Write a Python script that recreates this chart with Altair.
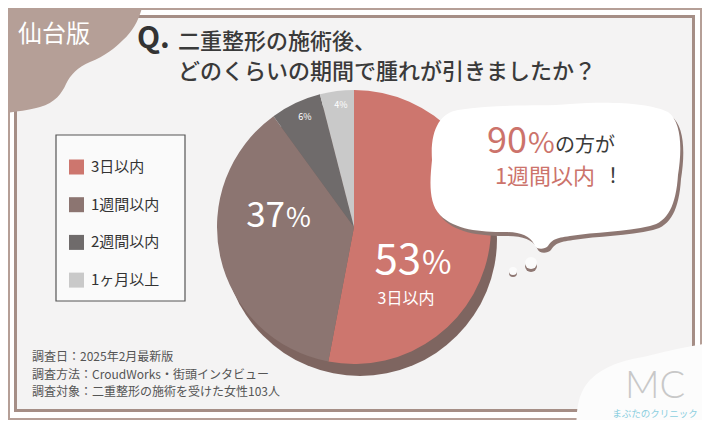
import math
import altair as alt
import pandas as pd

# ---------------- data ----------------
categories = ["3日以内", "1週間以内", "2週間以内", "1ヶ月以上"]
values = [53, 37, 6, 4]
colors = ["#cd766e", "#8c7571", "#6f6b6b", "#c9c9c9"]

badge = "仙台版"
title_q = "Q."
title_lines = ["二重整形の施術後、", "どのくらいの期間で腫れが引きましたか？"]
callout_pct = "90"
callout_rest = "の方が"
callout_line2 = "1週間以内"
callout_bang = "！"
footer_lines = [
    "調査日：2025年2月最新版",
    "調査方法：CroudWorks・街頭インタビュー",
    "調査対象：二重整形の施術を受けた女性103人",
]
logo_main = "MC"
logo_sub = "まぶたのクリニック"

# ---------------- styling ----------------
JP = "Noto Sans CJK JP"
BROWN = "#b59f97"
LINE = "#a58e86"
PANEL = "#f4f3f3"
RED = "#cc736b"
DARK = "#3a3a3a"
OFF = 8  # page margin

one = pd.DataFrame({"k": [0]})
pie_df = pd.DataFrame({"cat": categories, "val": values, "ord": list(range(len(values)))})


def P(v):
    return v - OFF


def text(s, x, y, size, color, align="left", weight=400, baseline="middle", font=JP):
    return alt.Chart(one).mark_text(
        text=s, align=align, baseline=baseline, fontSize=size, font=font,
        fontWeight=weight, color=color,
    ).encode(x=alt.value(P(x)), y=alt.value(P(y)))


def rect(x1, y1, x2, y2, **kw):
    return alt.Chart(one).mark_rect(**kw).encode(
        x=alt.value(P(x1)), x2=alt.value(P(x2)), y=alt.value(P(y1)), y2=alt.value(P(y2))
    )


def shape(path, x, y, color):
    return alt.Chart(one).mark_point(
        shape=path, size=4, filled=True, color=color, opacity=1, strokeWidth=0
    ).encode(x=alt.value(P(x)), y=alt.value(P(y)))


def dot(x, y, d, color):
    return alt.Chart(one).mark_point(
        shape="circle", size=d * d, filled=True, color=color, opacity=1, strokeWidth=0
    ).encode(x=alt.value(P(x)), y=alt.value(P(y)))


# decorative outlines (pixel units relative to anchor)
BLOB_TL = ("M -10 -10 L 146 -10 L 142 8 C 138 22 132 32 123 40 C 115 48 105 56 90 62 "
           "C 78 67 70 75 66 84 C 62 93 55 103 40 107 C 30 110 15 112 -10 115 Z")
BLOB_LOGO = ("M -133 12 C -135 -18 -132 -35 -120 -48 C -105 -63 -85 -68 -67 -71 "
             "C -45 -76 -20 -83 10 -86 L 10 12 Z")
CLOUD = ("M -123 -15 C -125 -45 -115 -62 -97 -65 C -55 -72 -15 -68 15 -71 "
         "C 55 -74 95 -72 113 -63 C 127 -53 127 -25 123 0 C 121 30 113 47 95 51 "
         "C 70 57 40 57 15 61 C 0 63 -3 65 -7 71 C -11 75 -19 75 -21 69 "
         "C -25 61 -35 57 -50 57 C -75 57 -100 55 -115 40 C -127 27 -125 5 -123 -15 Z")

CX, CY, R = 354, 227, 137

layers = []
# panel and frame
layers.append(rect(10, 10, 700, 418, color="white"))
layers.append(rect(15.5, 16.5, 693.5, 410.5, fill=PANEL, stroke=LINE, strokeWidth=3))
layers.append(shape(BLOB_TL, 0, 0, BROWN))
layers.append(shape(BLOB_LOGO, 710, 428, "#fcfcfc"))

# pie shadow + pie
layers.append(alt.Chart(one).mark_arc(theta=0, theta2=2 * math.pi, outerRadius=R, color="#7e6560")
              .encode(x=alt.value(P(CX + 6)), y=alt.value(P(CY + 12))))
pie = alt.Chart(pie_df).mark_arc(outerRadius=R, strokeWidth=0).encode(
    theta=alt.Theta("val:Q", stack=True),
    order=alt.Order("ord:Q"),
    color=alt.Color(
        "cat:N",
        scale=alt.Scale(domain=categories, range=colors),
        legend=alt.Legend(
            title=None, orient="none", legendX=P(69), legendY=P(159.5),
            symbolType="square", symbolSize=225, symbolStrokeWidth=0, symbolOpacity=1,
            labelFontSize=15, labelFont=JP, labelColor="#333", labelOffset=7,
            rowPadding=21.7, padding=0, labelLimit=200, direction="vertical",
        ),
    ),
    x=alt.value(P(CX)), y=alt.value(P(CY)),
)
layers.append(rect(56, 135, 185, 301, fill="#fafafa", stroke="#555555", strokeWidth=1.2))
layers.append(pie)

# pie labels
layers.append(text(str(values[0]), 421, 274, 42, "white", align="right", baseline="alphabetic"))
layers.append(text("%", 422, 274, 32, "white", baseline="alphabetic"))
layers.append(text(categories[0], 406, 299, 16, "white", align="center"))
layers.append(text(str(values[1]), 285, 227, 35, "white", align="right", baseline="alphabetic"))
layers.append(text("%", 286, 227, 27, "white", baseline="alphabetic"))
layers.append(text(f"{values[2]}%", 305, 117, 9, "white", align="center"))
layers.append(text(f"{values[3]}%", 341, 105, 9, "white", align="center"))

# callout cloud
layers.append(shape(CLOUD, 558, 179, "#8e7772"))
layers.append(shape(CLOUD, 555, 175, "white"))
layers.append(dot(513, 273, 8, "#8e7772"))
layers.append(dot(513, 271, 8, "#fbfbfb"))
layers.append(dot(531, 266, 12, "#8e7772"))
layers.append(dot(531, 263, 12, "#fbfbfb"))
layers.append(text(callout_pct, 527, 153, 36, RED, align="right", baseline="alphabetic"))
layers.append(text("%", 528, 153, 29, RED, baseline="alphabetic"))
layers.append(text(callout_rest, 555, 146, 20, DARK))
layers.append(text(callout_line2, 545, 177, 22, RED, align="center"))
layers.append(text(callout_bang, 613, 177, 20, DARK, align="center"))

# titles
layers.append(text(badge, 18, 35, 24, "white"))
layers.append(text(title_q, 137, 39, 30, "#333333", weight=700))
layers.append(text(title_lines[0], 178, 42, 22, DARK, weight=500))
layers.append(text(title_lines[1], 178, 72, 22, DARK, weight=500))

# footer
for i, line in enumerate(footer_lines):
    layers.append(text(line, 32, 357 + i * 17.5, 12, "#555555"))

# logo
layers.append(text(logo_main, 655, 387, 38, "#c8c8c8", align="center", weight=300, font="Lato"))
layers.append(text(logo_sub, 655, 414, 9.5, "#8ccfdf", align="center"))

chart = alt.layer(*layers).properties(
    width=694, height=412, padding=0, autosize="none", background=BROWN
).configure_view(stroke=None)

chart.save("out.html", embed_options={"renderer": "svg", "actions": False})
